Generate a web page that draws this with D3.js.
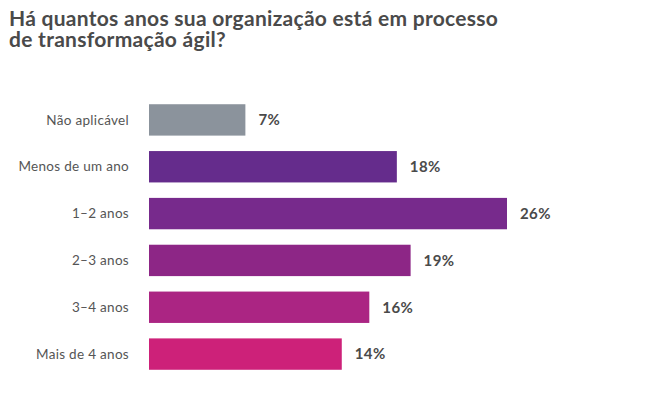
<!DOCTYPE html>
<html>
<head>
<meta charset="utf-8">
<script src="https://cdn.jsdelivr.net/npm/d3@7"></script>
<style>
  html, body { margin: 0; padding: 0; background: #fff; }
  svg { display: block; }
</style>
</head>
<body>
<svg id="chart" width="664" height="415"></svg>
<script>
const titleLines = ["Há quantos anos sua organização está em processo", "de transformação ágil?"];
const categories = ["Não aplicável", "Menos de um ano", "1–2 anos", "2–3 anos", "3–4 anos", "Mais de 4 anos"];
const values = [7, 18, 26, 19, 16, 14];
const colors = ["#8b939c", "#652c8c", "#772a8c", "#8d2686", "#ab2583", "#cd2179"];

const svg = d3.select("#chart");
const font = "Lato, 'Open Sans', sans-serif";

const title = svg.append("text")
  .attr("font-family", font).attr("font-weight", 700)
  .attr("font-size", 21).attr("fill", "#4a4a4a")
  .attr("letter-spacing", 0.28);
titleLines.forEach((t, i) => {
  title.append("tspan")
    .attr("x", 9).attr("y", 26 + i * 21)
    .text(t);
});

const x = d3.scaleLinear().domain([0, 26]).range([149, 507]);
const y = d3.scaleBand().domain(categories).range([96.5, 377.5]).paddingInner(0.33).paddingOuter(0.165);

const rows = svg.append("g").selectAll("g").data(categories).join("g");

rows.append("rect")
  .attr("x", x(0))
  .attr("y", d => y(d))
  .attr("width", (d, i) => x(values[i]) - x(0))
  .attr("height", y.bandwidth())
  .attr("fill", (d, i) => colors[i]);

rows.append("text")
  .attr("x", 129)
  .attr("y", d => y(d) + y.bandwidth() / 2)
  .attr("dy", "0.35em")
  .attr("text-anchor", "end")
  .attr("font-family", font).attr("font-size", 13.5)
  .attr("letter-spacing", 0.3)
  .attr("fill", "#555")
  .text(d => d);

rows.append("text")
  .attr("x", (d, i) => x(values[i]) + 13)
  .attr("y", d => y(d) + y.bandwidth() / 2)
  .attr("dy", "0.35em")
  .attr("font-family", font).attr("font-weight", 700).attr("font-size", 15)
  .attr("letter-spacing", 0.4)
  .attr("fill", "#4a4a4a")
  .text((d, i) => values[i] + "%");
</script>
</body>
</html>
